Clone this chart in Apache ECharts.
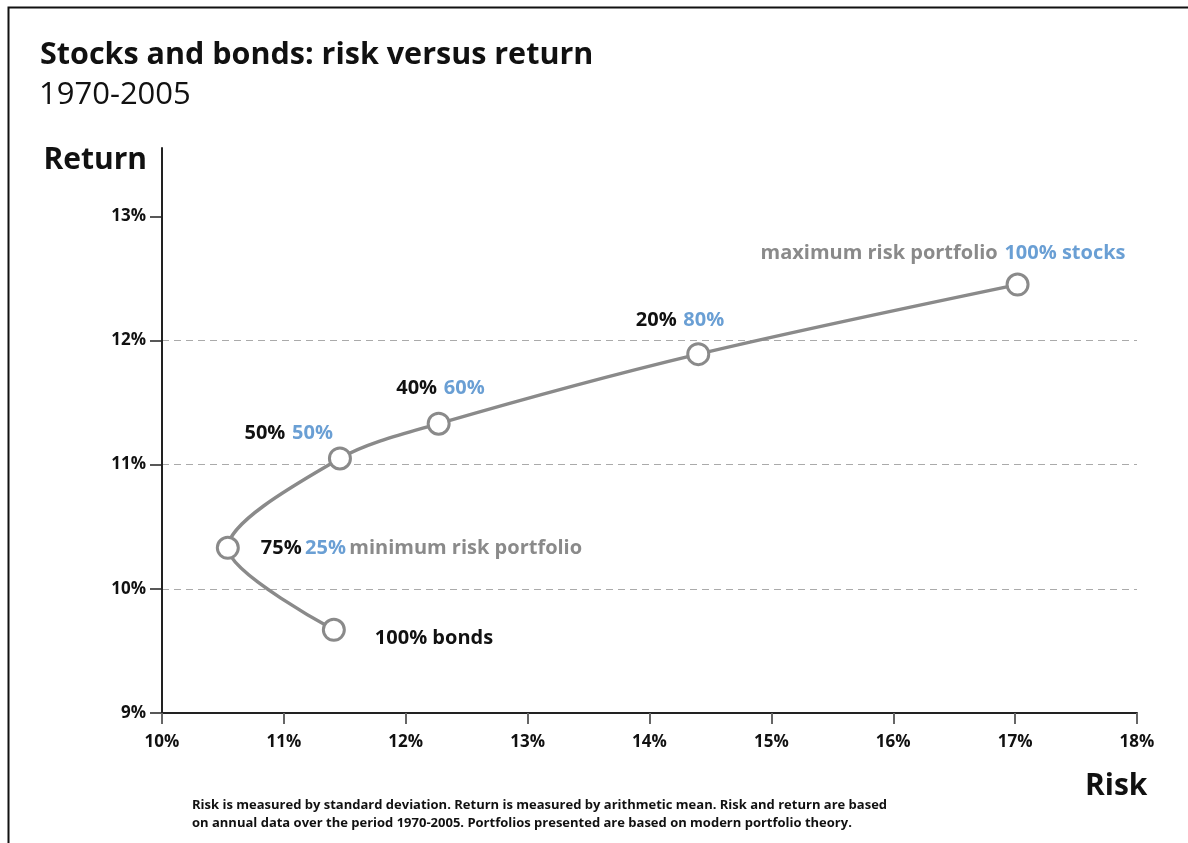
<!DOCTYPE html>
<html><head><meta charset="utf-8">
<script src="https://cdn.jsdelivr.net/npm/echarts@6/dist/echarts.min.js"></script>
<style>html,body{margin:0;padding:0;background:#fff}#c{width:1188px;height:843px}</style>
</head><body><div id="c"></div>
<script>
const FONT = '"Open Sans", "Noto Sans", sans-serif';

// Portfolio mixes (risk = std dev %, return = arithmetic mean %)
const risk = [11.41, 10.54, 11.46, 12.27, 14.40, 17.02];
const ret  = [9.67, 10.33, 11.05, 11.33, 11.89, 12.45];
const bondLabels  = ['100% bonds', '75%', '50%', '40%', '20%', ''];
const stockLabels = ['', '25%', '50%', '60%', '80%', '100% stocks'];
const notes       = ['', 'minimum risk portfolio', '', '', '', 'maximum risk portfolio'];

const yTicks = [9, 10, 11, 12, 13];

const footnote = 'Risk is measured by standard deviation. Return is measured by arithmetic mean. Risk and return are based\non annual data over the period 1970-2005. Portfolios presented are based on modern portfolio theory.';

// label placement (style only)
const labelPlacement = [
  {align: 'left',  offset: [41, 8]},
  {align: 'left',  offset: [33, 0]},
  {align: 'right', offset: [-7, -25]},
  {align: 'right', offset: [46, -35]},
  {align: 'right', offset: [26, -34]},
  {align: 'right', offset: [108, -31]}
];

const GRAY = '#8a8a8a', BLUE = '#6a9fd4', BLACK = '#111';

const seriesData = risk.map((x, i) => ({
  value: [x, ret[i]],
  label: {position: 'inside', align: labelPlacement[i].align, verticalAlign: 'middle', offset: labelPlacement[i].offset}
}));

function labelText(p) {
  const i = p.dataIndex;
  if (notes[i] && !bondLabels[i]) {
    return '{g|' + notes[i] + '}  {b|' + stockLabels[i] + '}';
  }
  const parts = [];
  if (bondLabels[i]) parts.push('{k|' + bondLabels[i] + '}');
  if (stockLabels[i]) parts.push('{b|' + stockLabels[i] + '}');
  if (notes[i]) parts.push('{g|' + notes[i] + '}');
  return parts.join(notes[i] ? ' ' : '  ');
}

const txt = {fontFamily: FONT, fontWeight: 'bold', fontSize: 20};
const chart = echarts.init(document.getElementById('c'), null, {renderer: 'canvas'});
chart.setOption({
  animation: false,
  backgroundColor: '#fff',
  title: [
    {text: 'Stocks and bonds: risk versus return', left: 40, top: 40, padding: 0,
     textStyle: {fontFamily: FONT, fontWeight: 'bold', fontSize: 30.5, color: BLACK}},
    {text: '1970-2005', left: 39, top: 80, padding: 0,
     textStyle: {fontFamily: FONT, fontWeight: 'normal', fontSize: 31, color: BLACK}},
    {text: 'Risk', left: 1085, top: 771, padding: 0,
     textStyle: {fontFamily: FONT, fontWeight: 'bold', fontSize: 30, color: BLACK}}
  ],
  graphic: [
    {type: 'rect', left: 6, top: 5, shape: {width: 1300, height: 900}, style: {fill: 'none', stroke: '#111', lineWidth: 2}, silent: true},
    {type: 'text', left: 192, top: 796, style: {text: footnote, fontFamily: FONT, fontWeight: 'bold', fontSize: 13, lineHeight: 18, fill: BLACK}}
  ],
  grid: {left: 162, right: 51, top: 148, bottom: 130, containLabel: false, outerBoundsMode: 'none'},
  xAxis: {
    type: 'value', min: 10, max: 18, interval: 1,
    axisLine: {lineStyle: {color: '#222', width: 2}},
    axisTick: {show: true, length: 11, inside: false, lineStyle: {color: '#666', width: 2}},
    axisLabel: {margin: 21, fontFamily: FONT, fontWeight: 'bold', fontSize: 17, color: BLACK, formatter: v => v + '%'},
    splitLine: {show: false}
  },
  yAxis: {
    type: 'value', min: 9, max: 13.55,
    name: 'Return', nameLocation: 'end', nameGap: -12,
    nameTextStyle: {fontFamily: FONT, fontWeight: 'bold', fontSize: 30, color: BLACK, align: 'right', verticalAlign: 'middle', padding: [0, 15, 0, 0]},
    axisLine: {show: true, lineStyle: {color: '#222', width: 2}},
    axisTick: {show: true, length: 12, customValues: yTicks, lineStyle: {color: '#222', width: 1.5}},
    axisLabel: {margin: 16, customValues: yTicks, fontFamily: FONT, fontWeight: 'bold', fontSize: 17, color: BLACK, formatter: v => v + '%'},
    splitLine: {show: true, showMinLine: false, showMaxLine: false, lineStyle: {color: '#aaa', width: 1.2, type: [7, 5]}}
  },
  series: [{
    type: 'line',
    data: seriesData,
    smooth: 0.3,
    symbol: 'circle',
    symbolSize: 21,
    lineStyle: {color: GRAY, width: 3.5},
    itemStyle: {color: '#fff', borderColor: GRAY, borderWidth: 3},
    label: {
      show: true,
      formatter: labelText,
      rich: {
        k: Object.assign({color: BLACK}, txt),
        b: Object.assign({color: BLUE}, txt),
        g: Object.assign({color: GRAY}, txt)
      }
    },
    z: 3
  }]
});
</script></body></html>
